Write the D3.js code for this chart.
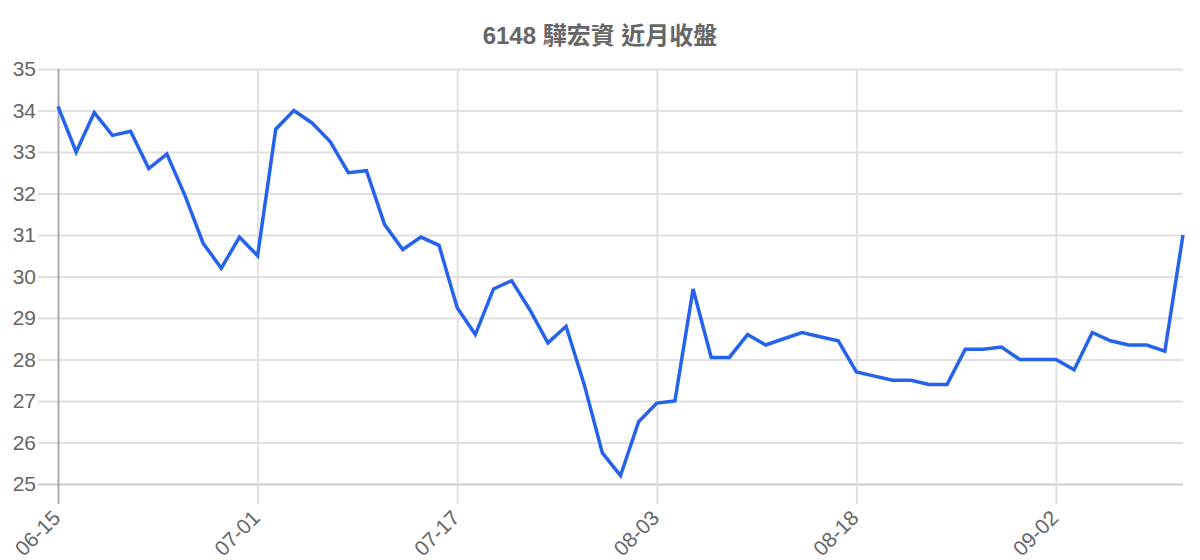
<!DOCTYPE html>
<html>
<meta charset="UTF-8">
    <head>
        <script src="https://d3js.org/d3.v7.min.js"></script>
        <style>
            body {
                margin: 0;
                background: white;
                font-family: "Liberation Sans", Arial, sans-serif;
            }
        </style>
    </head>
    <body>
    </body>
    <script>
        // closing prices, one per trading day
        let dates = [
            "06-15","06-16","06-17","06-18","06-19","06-22","06-23","06-24","06-26","06-29","06-30",
            "07-01","07-02","07-03","07-06","07-07","07-08","07-09","07-10","07-13","07-14","07-16",
            "07-17","07-20","07-21","07-22","07-23","07-24","07-27","07-28","07-29","07-30","07-31",
            "08-03","08-04","08-05","08-06","08-07","08-10","08-11","08-12","08-13","08-14","08-17",
            "08-18","08-19","08-20","08-21","08-24","08-25","08-26","08-27","08-28","08-31","09-01",
            "09-02","09-03","09-04","09-07","09-08","09-09","09-10","09-11"
        ];
        let closes = [
            34.1, 33.0, 33.95, 33.4, 33.5, 32.6, 32.95, 31.95, 30.8, 30.2, 30.95,
            30.5, 33.55, 34.0, 33.7, 33.25, 32.5, 32.55, 31.25, 30.65, 30.95, 30.75,
            29.25, 28.6, 29.7, 29.9, 29.2, 28.4, 28.8, 27.4, 25.75, 25.2, 26.5,
            26.95, 27.0, 29.7, 28.05, 28.05, 28.6, 28.35, 28.5, 28.65, 28.55, 28.45,
            27.7, 27.6, 27.5, 27.5, 27.4, 27.4, 28.25, 28.25, 28.3, 28.0, 28.0,
            28.0, 27.75, 28.65, 28.45, 28.35, 28.35, 28.2, 31.0
        ];
        let xTickLabels = ["06-15", "07-01", "07-17", "08-03", "08-18", "09-02"];
        let yTicks = [25, 26, 27, 28, 29, 30, 31, 32, 33, 34, 35];
        let title = "6148 驊宏資 近月收盤";

        let width = 1200;
        let height = 560;
        let margin = {top: 69, right: 17, bottom: 76, left: 58};

        let svg = d3.select("body").append("svg")
            .attr("width", width)
            .attr("height", height);

        let x = d3.scalePoint()
            .domain(dates)
            .range([margin.left, width - margin.right]);

        let y = d3.scaleLinear()
            .domain([25, 35])
            .range([height - margin.bottom, margin.top]);

        // horizontal grid with the y labels
        let yAxis = svg.append("g")
            .attr("transform", `translate(${margin.left},0)`)
            .call(d3.axisLeft(y)
                .tickValues(yTicks)
                .tickSize(20)
                .tickPadding(2)
                .tickFormat(d3.format("d")));
        yAxis.select(".domain").remove();
        yAxis.selectAll(".tick line")
            .attr("x2", width - margin.right - margin.left)
            .attr("x1", -20)
            .attr("stroke", d => d == 25 ? "#ccc" : "#e0e0e0")
            .attr("stroke-width", 2);
        yAxis.selectAll(".tick text")
            .attr("x", -22)
            .attr("fill", "#666")
            .attr("font-size", "21px")
            .attr("font-family", "'Liberation Sans', Arial, sans-serif");

        // vertical grid with rotated date labels
        let tickLen = height - margin.bottom - margin.top + 20;
        let xAxis = svg.append("g")
            .attr("transform", `translate(0,${margin.top})`)
            .call(d3.axisBottom(x)
                .tickValues(xTickLabels)
                .tickSize(tickLen));
        xAxis.select(".domain").remove();
        xAxis.selectAll(".tick line")
            .attr("stroke", (d, i) => i == 0 ? "#aaa" : "#e0e0e0")
            .attr("stroke-width", 2);
        xAxis.selectAll(".tick text")
            .attr("fill", "#666")
            .attr("font-size", "21px")
            .attr("font-family", "'Liberation Sans', Arial, sans-serif")
            .attr("text-anchor", "end")
            .attr("x", 0)
            .attr("y", 0)
            .attr("dy", "0.35em")
            .attr("transform", `translate(-2,${tickLen + 10}) rotate(-45)`);

        let line = d3.line()
            .x((d, i) => x(dates[i]))
            .y(d => y(d));

        svg.append("path")
            .datum(closes)
            .attr("fill", "none")
            .attr("stroke", "#2563eb")
            .attr("stroke-width", 3.5)
            .attr("stroke-linejoin", "miter")
            .attr("d", line);

        svg.append("text")
            .attr("x", width / 2)
            .attr("y", 44)
            .attr("text-anchor", "middle")
            .attr("fill", "#666")
            .attr("font-size", "24px")
            .attr("font-weight", "bold")
            .attr("font-family", "'Liberation Sans', 'Noto Sans CJK TC', sans-serif")
            .text(title);
    </script>
</html>
